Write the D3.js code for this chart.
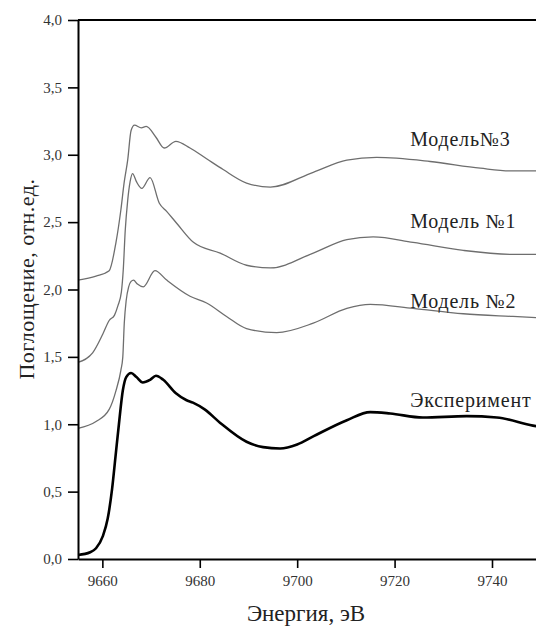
<!DOCTYPE html>
<html>
<head>
<meta charset="utf-8">
<script src="https://cdn.jsdelivr.net/npm/d3@7"></script>
<style>
  body { margin: 0; background: #fff; }
  svg { display: block; }
  svg text { font-family: "Liberation Serif", "Times New Roman", Tinos, "DejaVu Serif", "Noto Serif", serif !important; }
</style>
</head>
<body>
<svg id="chart" width="536" height="628"></svg>
<script>
// energy (eV), absorption (arb. units)
const experiment = [
  [9655.0, 0.03], [9657.5, 0.05], [9658.7, 0.08], [9660.1, 0.17], [9661.1, 0.30],
  [9662.0, 0.52], [9662.7, 0.76], [9663.4, 1.00], [9664.2, 1.25], [9664.9, 1.35], [9665.9, 1.38],
  [9667.0, 1.35], [9668.3, 1.31], [9669.8, 1.33], [9671.0, 1.36], [9672.5, 1.33],
  [9675.1, 1.23], [9677.2, 1.18], [9678.6, 1.16], [9681.0, 1.11], [9684.2, 1.01],
  [9689.6, 0.87], [9693.0, 0.83], [9696.5, 0.82], [9700.0, 0.85], [9703.3, 0.91],
  [9710.2, 1.03], [9715.0, 1.09], [9719.1, 1.08], [9725.8, 1.05], [9734.8, 1.06],
  [9741.0, 1.05], [9748.4, 0.99], [9750.0, 0.98]
];
const model1 = [
  [9655.0, 1.46], [9658.0, 1.53], [9660.1, 1.67], [9661.4, 1.77], [9662.5, 1.81],
  [9663.2, 1.88], [9663.9, 1.98], [9664.3, 2.15], [9664.7, 2.44], [9665.2, 2.66],
  [9665.7, 2.80], [9666.2, 2.86], [9667.0, 2.80], [9668.1, 2.75], [9669.8, 2.83],
  [9671.7, 2.64], [9673.2, 2.58], [9675.3, 2.49], [9678.7, 2.35], [9684.2, 2.27],
  [9689.6, 2.18], [9694.5, 2.16], [9703.3, 2.27], [9710.2, 2.37], [9715.6, 2.39],
  [9723.8, 2.35], [9734.1, 2.29], [9744.3, 2.26], [9750.0, 2.26]
];
const model2 = [
  [9655.0, 0.97], [9658.7, 1.02], [9661.4, 1.11], [9662.8, 1.25], [9663.8, 1.40],
  [9664.2, 1.50], [9664.5, 1.75], [9664.9, 1.92], [9665.4, 2.02], [9665.9, 2.06],
  [9666.4, 2.07], [9667.2, 2.04], [9668.4, 2.02], [9670.8, 2.14], [9673.2, 2.07],
  [9678.0, 1.95], [9681.4, 1.90], [9685.5, 1.80], [9689.6, 1.71], [9695.8, 1.68],
  [9703.3, 1.75], [9710.2, 1.86], [9715.0, 1.89], [9723.8, 1.86], [9734.1, 1.82],
  [9744.3, 1.80], [9750.0, 1.79]
];
const model3 = [
  [9655.0, 2.07], [9658.7, 2.10], [9661.4, 2.14], [9662.8, 2.35], [9663.8, 2.59],
  [9664.5, 2.80], [9665.2, 2.96], [9665.9, 3.18], [9666.6, 3.22], [9668.0, 3.20],
  [9669.0, 3.21], [9671.0, 3.13], [9672.7, 3.05], [9675.1, 3.10], [9678.0, 3.05],
  [9681.4, 2.97], [9684.8, 2.89], [9689.6, 2.79], [9694.5, 2.76], [9703.3, 2.87],
  [9710.2, 2.96], [9716.3, 2.98], [9727.3, 2.95], [9737.6, 2.90], [9744.3, 2.88],
  [9750.0, 2.88]
];
const seriesNames = ['Модель№3', 'Модель №1', 'Модель №2', 'Эксперимент'];
const yTicks = [0, 0.5, 1, 1.5, 2, 2.5, 3, 3.5, 4];
const xTicks = [9660, 9680, 9700, 9720, 9740];
const xTitle = 'Энергия, эВ';
const yTitle = 'Поглощение, отн.ед.';

const svg = d3.select('#chart');
const x = d3.scaleLinear().domain([9655, 9750]).range([78, 540.7]);
const y = d3.scaleLinear().domain([0, 4]).range([559, 20]);
const fmt = d => d.toFixed(1).replace('.', ',');

const line = d3.line()
  .x(d => x(d[0]))
  .y(d => y(d[1]))
  .curve(d3.curveMonotoneX);

const series = [
  {name: seriesNames[0], data: model3, color: '#6e6e6e', width: 1.3, labelY: 3.065},
  {name: seriesNames[1], data: model1, color: '#6e6e6e', width: 1.3, labelY: 2.46},
  {name: seriesNames[2], data: model2, color: '#6e6e6e', width: 1.3, labelY: 1.86},
  {name: seriesNames[3], data: experiment, color: '#000', width: 2.6, labelY: 1.125},
];

svg.selectAll('path.curve')
  .data(series)
  .enter()
  .append('path')
  .attr('class', 'curve')
  .attr('fill', 'none')
  .attr('stroke', d => d.color)
  .attr('stroke-width', d => d.width)
  .attr('d', d => line(d.data));

svg.selectAll('text.label')
  .data(series)
  .enter()
  .append('text')
  .attr('class', 'label')
  .attr('x', x(9723.2))
  .attr('y', d => y(d.labelY))
  .attr('font-size', 20)
  .attr('letter-spacing', 0.8)
  .attr('fill', '#222')
  .text(d => d.name);

// top frame line
svg.append('line')
  .attr('x1', x(9655)).attr('x2', x(9750))
  .attr('y1', y(4)).attr('y2', y(4))
  .attr('stroke', '#000').attr('stroke-width', 2);

const yAxis = svg.append('g')
  .attr('transform', `translate(${x(9655)},0)`)
  .call(d3.axisLeft(y).tickValues(yTicks).tickFormat(fmt).tickSize(10).tickSizeOuter(0).tickPadding(6));

const xAxis = svg.append('g')
  .attr('transform', `translate(0,${y(0)})`)
  .call(d3.axisBottom(x).tickValues(xTicks).tickFormat(d3.format('d')).tickSize(9).tickSizeOuter(0).tickPadding(7));

[yAxis, xAxis].forEach(g => {
  g.select('.domain').attr('stroke-width', 2);
  g.selectAll('.tick line').attr('stroke-width', 1.6);
  g.selectAll('.tick text')
    .attr('font-size', 15)
    .attr('fill', '#333');
});

svg.append('text')
  .attr('x', 306)
  .attr('y', 621)
  .attr('text-anchor', 'middle')
  .attr('font-size', 23)
  .attr('fill', '#222')
  .text(xTitle);

svg.append('text')
  .attr('transform', 'translate(34,279) rotate(-90)')
  .attr('text-anchor', 'middle')
  .attr('font-size', 22)
  .attr('letter-spacing', 0.5)
  .attr('fill', '#222')
  .text(yTitle);
</script>
</body>
</html>
